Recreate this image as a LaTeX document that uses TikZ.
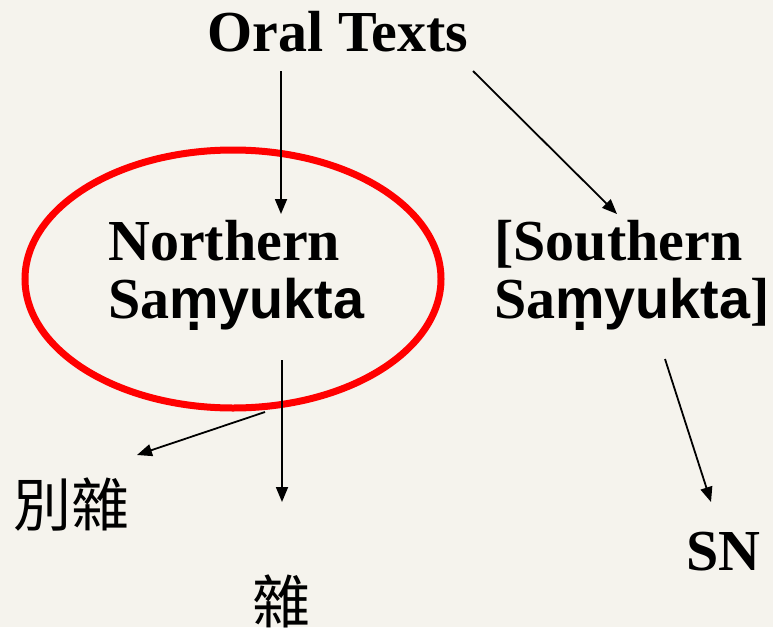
\documentclass[tikz,border=0pt]{standalone}
\usepackage{fontspec}
\setmainfont{Liberation Serif}
\newfontfamily\arialf[Scale=0.96]{Liberation Sans}
\newfontfamily\cjk{Noto Sans CJK TC}
\usetikzlibrary{arrows.meta}
\definecolor{paper}{RGB}{245,243,237}
\definecolor{ringred}{RGB}{255,0,0}
\newcommand{\mdotbelow}{\ooalign{m\cr\hidewidth\raisebox{-0.23em}{.}\hidewidth\cr}}
\newcommand{\Samy}{Sa{\arialf\mdotbelow yukta}}
\begin{document}
\begin{tikzpicture}[x=1pt,y=-1pt,
  lbl/.style={inner sep=0pt, align=left, font=\bfseries\fontsize{58}{58}\selectfont},
  cjklbl/.style={inner sep=0pt, font=\cjk\fontsize{58}{60}\selectfont},
  arr/.style={draw=black, line width=1.8pt, -{Triangle[length=15pt,width=12pt]}},
  ring/.style={draw=ringred, line width=7pt}]
\useasboundingbox[fill=paper] (0,0) rectangle (773,627);

% ring around Northern
\draw[ring] (233,279) ellipse [x radius=208, y radius=129];

% texts (base anchor of a two-line node is the baseline of its last line)
\node[lbl, anchor=base] (oral) at (338,51) {Oral Texts};
\node[lbl, anchor=base west] (north) at (108,318) {Northern\\\Samy};
\node[lbl, anchor=base west] (south) at (494,318) {[Southern\\\Samy]};
\node[lbl, anchor=base west] (sn) at (686,570) {SN};
\node[cjklbl] (biezza) at (71,505) {別雜};
\node[cjklbl] (za) at (281,601) {雜};

% connector end points
\coordinate (o1s) at (281,71);  \coordinate (o1e) at (281,214);
\coordinate (o2s) at (473,71);  \coordinate (o2e) at (617,214);
\coordinate (n1s) at (265,412); \coordinate (n1e) at (137,455);
\coordinate (n2s) at (282,360); \coordinate (n2e) at (282,502);
\coordinate (s1s) at (665,359); \coordinate (s1e) at (711,502);

\draw[arr] (o1s) -- (o1e);
\draw[arr] (o2s) -- (o2e);
\draw[arr] (n1s) -- (n1e);
\draw[arr] (n2s) -- (n2e);
\draw[arr] (s1s) -- (s1e);
\end{tikzpicture}
\end{document}
